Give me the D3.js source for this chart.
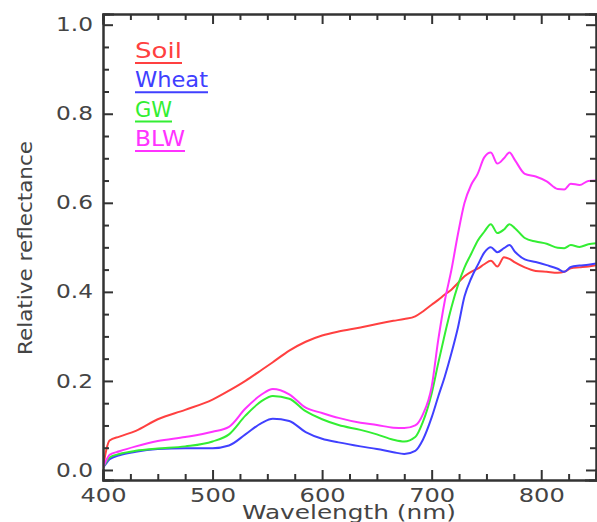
<!DOCTYPE html>
<html>
<head>
<meta charset="utf-8">
<script src="https://cdn.jsdelivr.net/npm/d3@7"></script>
<style>
  body { margin: 0; background: #fff; }
  svg { display: block; }
  text { font-family: "DejaVu Sans", sans-serif; fill: #444; }
  .domain, .tick line { stroke: #333; stroke-width: 2; }
  .series { fill: none; stroke-width: 2; stroke-linejoin: round; }
</style>
</head>
<body>
<svg id="chart" width="597" height="522"></svg>
<script>
// wavelengths (nm) the spectra were read at
const wavelengths = [400, 403, 406, 415, 430, 450, 475, 500, 515, 530, 545, 555, 570, 585, 600,
  615, 635, 650, 665, 675, 685, 692, 700, 706, 712, 718, 724, 730, 736, 742, 748, 754, 760,
  766, 771, 776, 785, 795, 805, 815, 821, 827, 835, 843, 850];

const soil = [0.005, 0.045, 0.066, 0.075, 0.088, 0.114, 0.135, 0.158, 0.178, 0.200, 0.225, 0.242,
  0.268, 0.288, 0.302, 0.311, 0.320, 0.328, 0.335, 0.339, 0.345, 0.356, 0.371, 0.382, 0.394,
  0.405, 0.420, 0.435, 0.445, 0.452, 0.462, 0.470, 0.457, 0.478, 0.474, 0.466, 0.455, 0.447,
  0.445, 0.443, 0.445, 0.453, 0.455, 0.457, 0.460];

const wheat = [0.005, 0.015, 0.024, 0.033, 0.041, 0.047, 0.049, 0.049, 0.055, 0.080, 0.106, 0.115,
  0.110, 0.085, 0.070, 0.062, 0.053, 0.047, 0.040, 0.036, 0.043, 0.068, 0.118, 0.165, 0.210,
  0.262, 0.320, 0.390, 0.430, 0.460, 0.488, 0.500, 0.489, 0.498, 0.505, 0.490, 0.473, 0.467,
  0.460, 0.452, 0.445, 0.456, 0.459, 0.461, 0.464];

const gw = [0.005, 0.018, 0.028, 0.036, 0.043, 0.048, 0.053, 0.064, 0.080, 0.122, 0.155, 0.166,
  0.160, 0.132, 0.114, 0.101, 0.090, 0.080, 0.068, 0.064, 0.074, 0.108, 0.172, 0.240, 0.305,
  0.365, 0.415, 0.455, 0.485, 0.515, 0.535, 0.552, 0.532, 0.540, 0.552, 0.543, 0.521, 0.513,
  0.508, 0.499, 0.498, 0.505, 0.501, 0.507, 0.509];

const blw = [0.005, 0.022, 0.034, 0.042, 0.053, 0.065, 0.074, 0.086, 0.097, 0.138, 0.170, 0.182,
  0.170, 0.140, 0.128, 0.117, 0.106, 0.101, 0.095, 0.094, 0.100, 0.125, 0.187, 0.292, 0.380,
  0.449, 0.530, 0.600, 0.640, 0.665, 0.702, 0.713, 0.688, 0.700, 0.713, 0.696, 0.665, 0.659,
  0.648, 0.631, 0.630, 0.643, 0.640, 0.649, 0.650];

const seriesNames = ['Soil', 'Wheat', 'GW', 'BLW'];
const seriesValues = [soil, wheat, gw, blw];
const seriesColors = ['#ff4040', '#4040ff', '#33ee33', '#ff33ff'];

const xTicks = [400, 500, 600, 700, 800];
const yTicks = [0.0, 0.2, 0.4, 0.6, 0.8, 1.0];

const svg = d3.select('#chart');

const boxLeft = 103, boxRight = 596, boxTop = 14, boxBottom = 480;

const x = d3.scaleLinear().domain([400, 850]).range([boxLeft, boxRight]);
const y = d3.scaleLinear().domain([-0.0225, 1.024]).range([boxBottom, boxTop]);

const xMinor = d3.range(425, 851, 25).filter(d => d % 100 !== 0);
const yMinor = d3.range(1, 21).map(d => d * 0.05).filter(d => Math.round(d * 100) % 20 !== 0);

// plot lines first, axes drawn on top
const line = d3.line()
  .x((d, i) => x(wavelengths[i]))
  .y(d => y(d))
  .curve(d3.curveMonotoneX);

svg.append('defs').append('clipPath').attr('id', 'clip')
  .append('rect').attr('x', boxLeft).attr('y', boxTop)
  .attr('width', boxRight - boxLeft).attr('height', boxBottom - boxTop);

svg.append('g').attr('clip-path', 'url(#clip)')
  .selectAll('path')
  .data(seriesValues)
  .enter()
  .append('path')
  .attr('class', 'series')
  .attr('stroke', (d, i) => seriesColors[i])
  .attr('d', line);

// axes: major + minor ticks, all pointing inward
function addAxis(axis, tx, ty) {
  const g = svg.append('g').attr('transform', `translate(${tx},${ty})`).call(axis);
  return g;
}

const fmt = d3.format('.1f');

const gBottom = addAxis(d3.axisBottom(x).tickValues(xTicks).tickSize(-10).tickPadding(7), 0, boxBottom);
addAxis(d3.axisBottom(x).tickValues(xMinor).tickSize(-6).tickFormat(''), 0, boxBottom);
addAxis(d3.axisTop(x).tickValues(xTicks).tickSize(-10).tickFormat(''), 0, boxTop);
addAxis(d3.axisTop(x).tickValues(xMinor).tickSize(-6).tickFormat(''), 0, boxTop);

const gLeft = addAxis(d3.axisLeft(y).tickValues(yTicks).tickSize(-10).tickPadding(10).tickFormat(fmt), boxLeft, 0);
addAxis(d3.axisLeft(y).tickValues(yMinor).tickSize(-6).tickFormat(''), boxLeft, 0);
addAxis(d3.axisRight(y).tickValues(yTicks).tickSize(-10).tickFormat(''), boxRight, 0);
addAxis(d3.axisRight(y).tickValues(yMinor).tickSize(-6).tickFormat(''), boxRight, 0);

svg.selectAll('.domain').attr('stroke-linecap', 'square');

gBottom.selectAll('.tick text')
  .attr('font-size', 19)
  .attr('textLength', 46)
  .attr('lengthAdjust', 'spacingAndGlyphs')
  .attr('dy', '0.8em')
  .style('font-family', '"DejaVu Sans", sans-serif')
  .style('fill', '#444');

gLeft.selectAll('.tick text')
  .attr('font-size', 19)
  .attr('textLength', 37)
  .attr('lengthAdjust', 'spacingAndGlyphs')
  .style('font-family', '"DejaVu Sans", sans-serif')
  .style('fill', '#444');

// axis titles
svg.append('text')
  .attr('x', 349)
  .attr('y', 519)
  .attr('text-anchor', 'middle')
  .attr('font-size', 20)
  .attr('textLength', 214)
  .attr('lengthAdjust', 'spacingAndGlyphs')
  .text('Wavelength (nm)');

svg.append('text')
  .attr('transform', 'translate(32,248) rotate(-90)')
  .attr('text-anchor', 'middle')
  .attr('font-size', 20)
  .attr('textLength', 214)
  .attr('lengthAdjust', 'spacingAndGlyphs')
  .text('Relative reflectance');

// legend with underlines
const legendWidths = [47, 73, 37, 50];
const legend = svg.append('g').selectAll('g')
  .data(seriesNames)
  .enter()
  .append('g')
  .attr('transform', (d, i) => `translate(135,${58 + i * 29.3})`);

legend.append('text')
  .attr('font-size', 21)
  .attr('textLength', (d, i) => legendWidths[i])
  .attr('lengthAdjust', 'spacingAndGlyphs')
  .style('fill', (d, i) => seriesColors[i])
  .text(d => d);

legend.append('line')
  .attr('x1', 0)
  .attr('x2', (d, i) => legendWidths[i])
  .attr('y1', 5)
  .attr('y2', 5)
  .attr('stroke', (d, i) => seriesColors[i])
  .attr('stroke-width', 2);
</script>
</body>
</html>
